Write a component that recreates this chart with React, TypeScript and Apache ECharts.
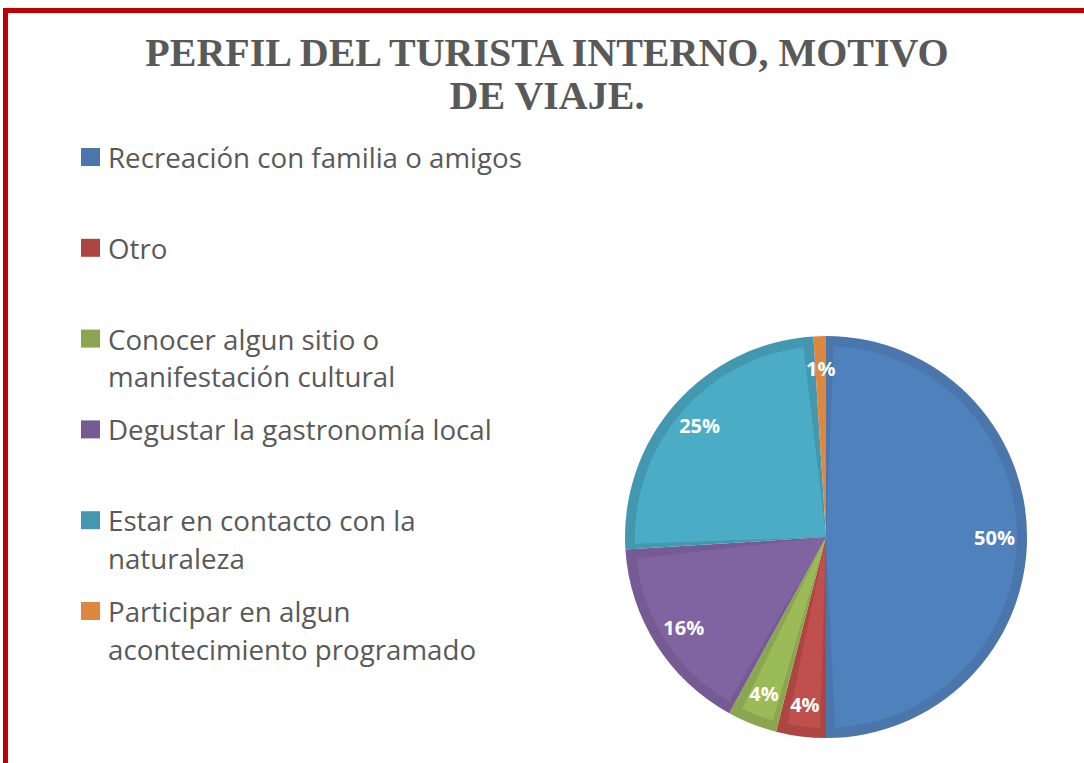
import React, { useEffect, useRef } from "react";
import * as echarts from "echarts";

const titleText = "PERFIL DEL TURISTA INTERNO, MOTIVO\nDE VIAJE.";
const categories = [
  "Recreación con familia o amigos",
  "Otro",
  "Conocer algun sitio o manifestación cultural",
  "Degustar la gastronomía local",
  "Estar en contacto con la naturaleza",
  "Participar en algun acontecimiento programado",
];
const legendLabels = [
  "Recreación con familia o amigos",
  "Otro",
  "Conocer algun sitio o\nmanifestación cultural",
  "Degustar la gastronomía local",
  "Estar en contacto con la\nnaturaleza",
  "Participar en algun\nacontecimiento programado",
];
const values = [50, 4, 4, 16, 25, 1];

const fillColors = ["#4f81bd", "#c0504d", "#9bbb59", "#8064a2", "#4bacc6", "#f79646"];
const edgeColors = ["#4a76ab", "#ad4643", "#8aa74f", "#755a93", "#4398b0", "#de873e"];

const CENTER: [number, number] = [826, 537];
const R = 201;
const LEGEND_FIRST = 157;
const LEGEND_STEP = 90.8;
const LINE_H = 37.5;

export default function App() {
  const ref = useRef<HTMLDivElement>(null);
  useEffect(() => {
    if (!ref.current) return;
    const chart = echarts.init(ref.current, null, { renderer: "svg" });

    const legends = categories.map((name, i) => {
      const lines = legendLabels[i].split("\n");
      const c = LEGEND_FIRST + i * LEGEND_STEP;
      // multi-line labels: a blank first line keeps the first text line level with the icon
      const shown = lines.length > 1 ? "\u00a0\n" + legendLabels[i] : legendLabels[i];
      const total = lines.length > 1 ? lines.length + 1 : 1;
      const top = c - (LINE_H * total) / 2;
      return {
        left: 81,
        top,
        padding: 0,
        orient: "vertical",
        itemWidth: 19,
        itemHeight: 18,
        icon: "rect",
        selectedMode: false,
        formatter: () => shown,
        data: [
          {
            name,
            itemStyle: { color: edgeColors[i] },
            textStyle: {
              color: "#595959",
              fontFamily: "Open Sans",
              fontSize: 27.7,
              lineHeight: LINE_H,
              padding: [0, 0, 0, 3],
            },
          },
        ],
      };
    });

    const base = {
      type: "pie",
      center: CENTER,
      startAngle: 90,
      clockwise: true,
      silent: true,
      labelLine: { show: false },
      emphasis: { disabled: true },
    };

    chart.setOption({
      animation: false,
      backgroundColor: "#ffffff",
      title: {
        text: titleText,
        left: 547,
        top: 31,
        padding: 0,
        textAlign: "center",
        textStyle: {
          fontFamily: "Liberation Serif",
          fontWeight: "bold",
          fontSize: 40,
          lineHeight: 43,
          color: "#595959",
        },
      },
      legend: legends,
      graphic: [
        {
          type: "rect",
          shape: { x: 5.5, y: 10.5, width: 1300, height: 1000 },
          style: { fill: "none", stroke: "#c00000", lineWidth: 5 },
          silent: true,
        },
      ],
      series: [
        {
          ...base,
          name: "edge",
          radius: [0, R],
          label: { show: false },
          data: categories.map((name, i) => ({
            name,
            value: values[i],
            itemStyle: { color: edgeColors[i] },
          })),
        },
        {
          ...base,
          name: "fill",
          radius: [0, R - 10],
          padAngle: 4.5,
          label: { show: false },
          data: categories.map((name, i) => ({
            name,
            value: values[i],
            itemStyle: { color: fillColors[i] },
          })),
        },
        {
          ...base,
          name: "labels",
          radius: [130, R],
          itemStyle: { color: "rgba(0,0,0,0)" },
          label: {
            show: true,
            position: "inside",
            color: "#ffffff",
            fontFamily: "Open Sans",
            fontWeight: "bold",
            fontSize: 20,
            formatter: (p: any) => `${p.value}%`,
          },
          data: categories.map((name, i) => ({ name, value: values[i] })),
        },
      ],
    });
    return () => chart.dispose();
  }, []);
  return (
    <div
      ref={ref}
      style={{ position: "absolute", left: 0, top: 0, width: 1084, height: 763 }}
    />
  );
}
